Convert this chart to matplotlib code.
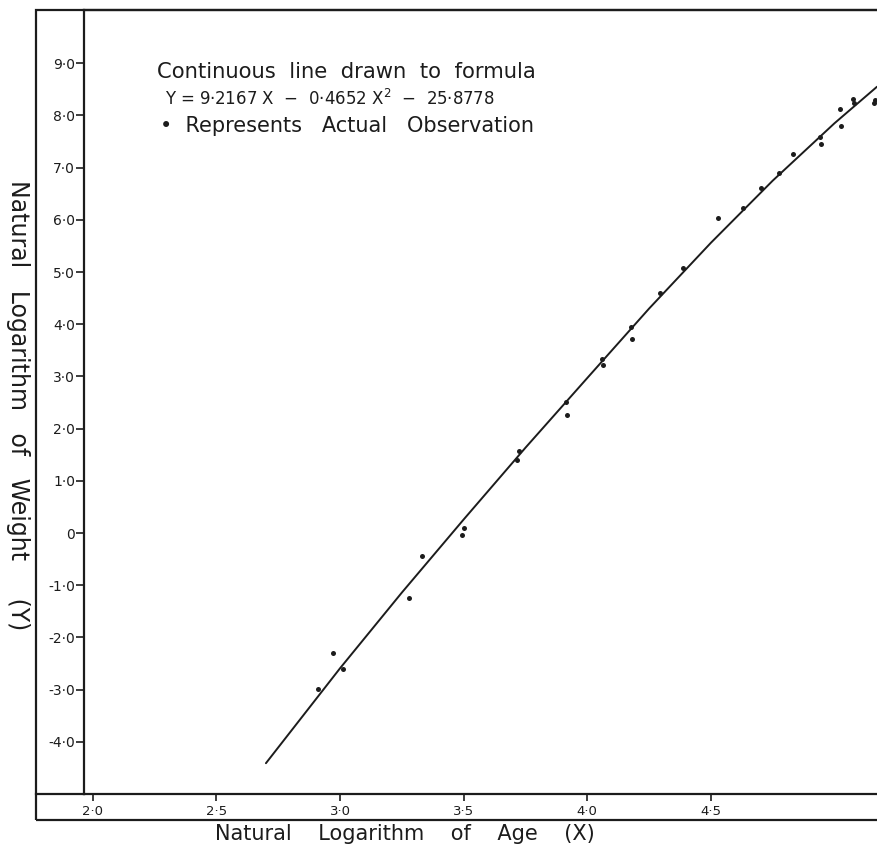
import matplotlib
matplotlib.use("Agg")
import matplotlib.pyplot as plt
from matplotlib.patches import Rectangle
from matplotlib.lines import Line2D

# observed points: ln(age), ln(weight)
obs_x = [2.910, 2.971, 3.011, 3.278, 3.331, 3.494, 3.502, 3.716, 3.722, 3.913,
         3.919, 4.059, 4.063, 4.176, 4.180, 4.294, 4.387, 4.528, 4.629, 4.702,
         4.775, 4.832, 4.941, 4.945, 5.022, 5.026, 5.074, 5.078, 5.159, 5.163]
obs_y = [-2.99, -2.30, -2.61, -1.25, -0.44, -0.03, 0.10, 1.39, 1.57, 2.51,
         2.26, 3.33, 3.22, 3.95, 3.72, 4.60, 5.08, 6.03, 6.23, 6.61,
         6.90, 7.26, 7.59, 7.45, 8.12, 7.80, 8.31, 8.24, 8.24, 8.30]

# fitted curve as drawn
curve_x = [2.70, 3.00, 3.25, 3.50, 3.75, 4.00, 4.25, 4.50, 4.75, 5.00, 5.172]
curve_y = [-4.41, -2.59, -1.14, 0.26, 1.635, 2.97, 4.30, 5.56, 6.75, 7.85, 8.55]

x_ticks = [2.0, 2.5, 3.0, 3.5, 4.0, 4.5]
x_tick_labels = ["2·0", "2·5", "3·0", "3·5", "4·0", "4·5"]
y_ticks = [9, 8, 7, 6, 5, 4, 3, 2, 1, 0, -1, -2, -3, -4]
y_tick_labels = ["9·0", "8·0", "7·0", "6·0", "5·0", "4·0", "3·0", "2·0",
                 "1·0", "0", "-1·0", "-2·0", "-3·0", "-4·0"]

INK = "#1c1c1c"
W, H = 877, 847

fig = plt.figure(figsize=(W / 100, H / 100), dpi=100)
fig.patch.set_facecolor("white")

ax = fig.add_axes([84 / W, (H - 794) / H, (W - 84) / W, (794 - 10) / H])
ax.set_xlim(1.964, 5.172)
ax.set_ylim(-5.0, 10.02)

ax.plot(curve_x, curve_y, color=INK, lw=1.4, solid_capstyle="round",
        solid_joinstyle="round", zorder=2)
ax.plot(obs_x, obs_y, "o", color=INK, ms=3.6, mec="none", zorder=3)

ax.set_xticks(x_ticks)
ax.set_xticklabels(x_tick_labels)
ax.set_yticks(y_ticks)
ax.set_yticklabels(y_tick_labels)
ax.tick_params(axis="x", direction="out", length=5, width=1.2, pad=3,
               labelsize=9.5, colors=INK)
ax.tick_params(axis="y", direction="out", length=6, width=1.2, pad=0.5,
               labelsize=10, colors=INK)

for side in ("left", "bottom", "top"):
    ax.spines[side].set_color(INK)
    ax.spines[side].set_linewidth(1.6)
ax.spines["right"].set_visible(False)

# outer border around the scales
frame = Rectangle((36 / W, (H - 820) / H), (W - 36 + 20) / W, (820 - 10) / H,
                  transform=fig.transFigure, fill=False, ec=INK, lw=1.6,
                  clip_on=False)
fig.add_artist(frame)
fig.add_artist(Line2D([36 / W, 84 / W], [(H - 794) / H] * 2,
                      transform=fig.transFigure, color=INK, lw=1.6))

ax.text(2.259, 8.72, "Continuous  line  drawn  to  formula", fontsize=15.2,
        color=INK, va="baseline", ha="left")
ax.text(2.291, 8.20, "Y = 9·2167 X  −  0·4652 X$^2$  −  25·8778", fontsize=12,
        color=INK, va="baseline", ha="left")
ax.text(2.271, 7.68, "•  Represents   Actual   Observation", fontsize=15,
        color=INK, va="baseline", ha="left")

fig.text(18 / W, 1 - 405 / H, "Natural   Logarithm   of   Weight     (Y)",
         rotation=270, fontsize=17, color=INK, ha="center", va="center")
fig.text(405 / W, 1 - 834 / H, "Natural    Logarithm    of    Age    (X)",
         fontsize=15, color=INK, ha="center", va="center")

fig.savefig("out.png", dpi=100, facecolor="white")
